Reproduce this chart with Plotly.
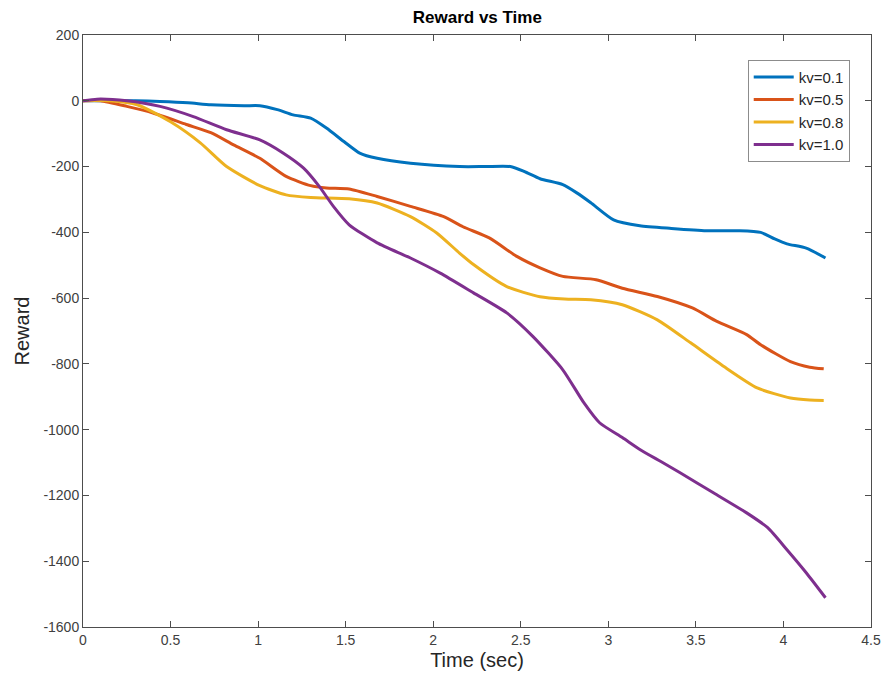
import plotly.graph_objects as go

t_01 = [0, 0.1, 0.3, 0.44, 0.6, 0.73, 0.92, 1.01, 1.11, 1.2, 1.3, 1.39, 1.49, 1.58, 1.68, 1.87, 2.15, 2.3, 2.44, 2.52, 2.61, 2.74, 2.82, 2.9, 3.03, 3.18, 3.36, 3.56, 3.75, 3.87, 3.95, 4.02, 4.13, 4.24]
r_01 = [0, 0, 0, -2, -6, -12, -15, -15, -27, -43, -53, -83, -124, -159, -175, -190, -200, -200, -200, -215, -237, -255, -280, -310, -362, -380, -388, -395, -395, -400, -420, -435, -448, -478]

t_05 = [0, 0.1, 0.25, 0.4, 0.59, 0.73, 0.86, 1.01, 1.16, 1.3, 1.39, 1.52, 1.68, 1.87, 2.06, 2.17, 2.32, 2.48, 2.61, 2.74, 2.93, 3.08, 3.28, 3.48, 3.62, 3.79, 3.87, 4.04, 4.15, 4.23]
r_05 = [0, 0, -17, -37, -72, -97, -134, -175, -230, -258, -265, -268, -291, -321, -352, -383, -417, -474, -508, -534, -544, -570, -595, -630, -671, -711, -742, -793, -810, -815]

t_08 = [0, 0.15, 0.31, 0.5, 0.67, 0.82, 1.01, 1.16, 1.3, 1.52, 1.68, 1.87, 2.02, 2.15, 2.23, 2.42, 2.61, 2.75, 2.9, 3.08, 3.28, 3.47, 3.66, 3.85, 4.04, 4.15, 4.23]
r_08 = [0, 0, -12, -64, -128, -200, -258, -286, -294, -298, -311, -352, -402, -463, -498, -565, -596, -603, -605, -620, -666, -736, -808, -873, -904, -910, -911]

t_10 = [0, 0.08, 0.25, 0.44, 0.63, 0.82, 1.01, 1.14, 1.26, 1.35, 1.43, 1.52, 1.68, 1.87, 2.04, 2.23, 2.42, 2.57, 2.74, 2.86, 2.95, 3.08, 3.18, 3.3, 3.41, 3.6, 3.79, 3.91, 4.02, 4.13, 4.24]
r_10 = [0, 5, 0, -17, -48, -88, -119, -158, -205, -261, -321, -377, -432, -478, -524, -584, -645, -717, -818, -918, -979, -1024, -1060, -1097, -1131, -1192, -1253, -1298, -1365, -1435, -1511]

series = [
    ("kv=0.1", t_01, r_01, "#0072BD"),
    ("kv=0.5", t_05, r_05, "#D95319"),
    ("kv=0.8", t_08, r_08, "#EDB120"),
    ("kv=1.0", t_10, r_10, "#7E2F8E"),
]

x_ticks = [0, 0.5, 1, 1.5, 2, 2.5, 3, 3.5, 4, 4.5]
x_tick_text = ["0", "0.5", "1", "1.5", "2", "2.5", "3", "3.5", "4", "4.5"]
y_ticks = [200, 0, -200, -400, -600, -800, -1000, -1200, -1400, -1600]
y_tick_text = ["200", "0", "-200", "-400", "-600", "-800", "-1000", "-1200", "-1400", "-1600"]

fig = go.Figure()
for name, t, r, c in series:
    fig.add_trace(go.Scatter(x=t, y=r, mode="lines", name=name,
                             line=dict(color=c, width=3, shape="spline", smoothing=0.6)))

font = "Liberation Sans, Arial, sans-serif"
axis_common = dict(showgrid=False, zeroline=False, showline=True, mirror="ticks",
                   linecolor="#4d4d4d", linewidth=1, ticks="inside", ticklen=6,
                   tickcolor="#4d4d4d", automargin=False,
                   tickfont=dict(family=font, size=14, color="#404040"))
fig.update_layout(
    width=884, height=686,
    paper_bgcolor="white", plot_bgcolor="white",
    margin=dict(l=83, r=13, t=35, b=59),
    title=dict(text="<b>Reward vs Time</b>", x=0.54, xanchor="center", y=0.975, yanchor="middle",
               font=dict(family=font, size=17, color="black")),
    xaxis=dict(range=[0, 4.5], tickvals=x_ticks, ticktext=x_tick_text,
               title=dict(text="Time (sec)", font=dict(family=font, size=20, color="#262626"), standoff=6),
               **axis_common),
    yaxis=dict(range=[-1600, 200], tickvals=y_ticks, ticktext=y_tick_text,
               title=dict(text="Reward", font=dict(family=font, size=20, color="#262626"), standoff=8),
               **axis_common),
    legend=dict(x=0.973, y=0.958, xanchor="right", yanchor="top",
                bgcolor="white", bordercolor="#8c8c8c", borderwidth=1,
                font=dict(family=font, size=15, color="#262626"),
                tracegroupgap=0, itemwidth=40),
    showlegend=True,
)

fig.write_html("out.html")
